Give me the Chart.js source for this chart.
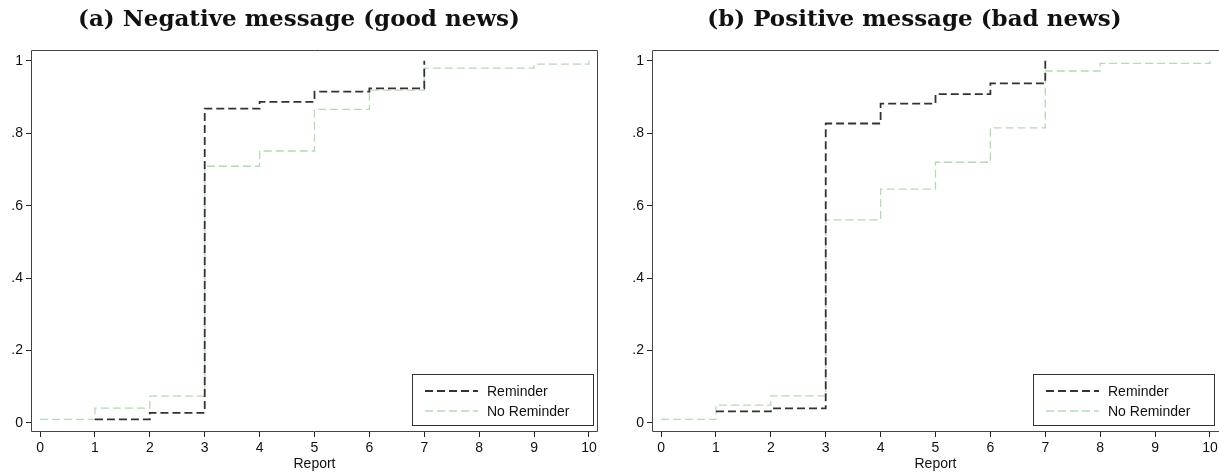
<!DOCTYPE html>
<html>
<head>
<meta charset="utf-8">
<script src="https://cdn.jsdelivr.net/npm/chart.js@4"></script>
<style>
  body { margin: 0; background: #fff; }
  canvas { position: absolute; top: 0; }
  #chartA { left: 0; }
  #chartB { left: 610px; }
</style>
</head>
<body>
<canvas id="chartA" width="610" height="473"></canvas>
<canvas id="chartB" width="609" height="473"></canvas>
<script>
// valeurs
const panelTitles = ['(a) Negative message (good news)', '(b) Positive message (bad news)'];
const seriesNames = ['Reminder', 'No Reminder'];
const reportTicks = [0, 1, 2, 3, 4, 5, 6, 7, 8, 9, 10];
const yTickVals = [0, 0.2, 0.4, 0.6, 0.8, 1];
const yTickLabels = ['0', '.2', '.4', '.6', '.8', '1'];

const reminderX = [1, 2, 3, 4, 5, 6, 7];
const noReminderX = [0, 1, 2, 3, 4, 5, 6, 7, 8, 9, 10];

const negReminder = [0.010, 0.028, 0.868, 0.887, 0.915, 0.924, 1.0];
const negNoReminder = [0.010, 0.041, 0.074, 0.709, 0.751, 0.866, 0.919, 0.980, 0.980, 0.991, 1.0];
const posReminder = [0.032, 0.040, 0.827, 0.882, 0.908, 0.938, 1.0];
const posNoReminder = [0.010, 0.049, 0.075, 0.561, 0.646, 0.720, 0.815, 0.972, 0.993, 0.993, 1.0];

const toPoints = (xs, ys) => xs.map((x, i) => ({ x: x, y: ys[i] }));

const frameBox = {
    id: 'frameBox',
    afterDraw(chart, args, opts) {
        const { ctx, chartArea: a } = chart;
        const l = Math.round(a.left) + 0.5, t = Math.round(a.top) + 0.5;
        const r = Math.round(a.right) - 0.5, b = Math.round(a.bottom) - 0.5;
        ctx.save();
        ctx.strokeStyle = '#444';
        ctx.lineWidth = 1;
        ctx.beginPath();
        if (opts.right) {
            ctx.moveTo(r, t);
            ctx.lineTo(r, b);
        } else {
            ctx.moveTo(r + 1, b);
        }
        ctx.lineTo(l, b);
        ctx.lineTo(l, t);
        ctx.lineTo(opts.right ? r : r + 1, t);
        ctx.stroke();
        ctx.restore();
    }
};

const boxLegend = {
    id: 'boxLegend',
    afterDatasetsDraw(chart) {
        const { ctx, chartArea: a } = chart;
        const w = 181, h = 51;
        const x0 = Math.round(a.right - 5 - w), y0 = Math.round(a.bottom - 7 - h);
        ctx.save();
        ctx.fillStyle = '#fff';
        ctx.fillRect(x0, y0, w, h);
        ctx.strokeStyle = '#333';
        ctx.lineWidth = 1;
        ctx.strokeRect(x0 + 0.5, y0 + 0.5, w, h);
        chart.data.datasets.forEach((ds, i) => {
            const y = y0 + 17 + i * 20;
            ctx.setLineDash(ds.borderDash);
            ctx.strokeStyle = ds.borderColor;
            ctx.lineWidth = ds.borderWidth;
            ctx.beginPath();
            ctx.moveTo(x0 + 13, y);
            ctx.lineTo(x0 + 66, y);
            ctx.stroke();
            ctx.setLineDash([]);
            ctx.fillStyle = '#111';
            ctx.font = '14px "Liberation Sans", Arial, sans-serif';
            ctx.textBaseline = 'middle';
            ctx.fillText(ds.label, x0 + 75, y + 1);
        });
        ctx.restore();
    }
};

function makePanel(canvasId, title, reminderY, noReminderY, yAxisWidth, padRight, rightEdge) {
    const ctx = document.getElementById(canvasId).getContext('2d');
    return new Chart(ctx, {
        type: 'line',
        data: {
            datasets: [{
                label: seriesNames[0],
                data: toPoints(reminderX, reminderY),
                borderColor: '#333',
                borderWidth: 1.8,
                borderDash: [8, 4],
                stepped: 'before',
                pointRadius: 0,
                fill: false
            }, {
                label: seriesNames[1],
                data: toPoints(noReminderX, noReminderY),
                borderColor: '#b4dab4',
                borderWidth: 1.3,
                borderDash: [8, 4],
                stepped: 'before',
                pointRadius: 0,
                fill: false
            }]
        },
        options: {
            responsive: false,
            animation: false,
            layout: { padding: { left: 0, right: padRight, top: 0, bottom: 0 } },
            plugins: {
                legend: { display: false },
                tooltip: { enabled: false },
                frameBox: { right: rightEdge },
                title: {
                    display: true,
                    text: title,
                    color: '#111',
                    font: { family: '"DejaVu Serif", serif', weight: 'bold', size: 23 },
                    padding: { top: 6, bottom: 16.4 }
                }
            },
            scales: {
                x: {
                    type: 'linear',
                    min: -0.165,
                    max: 10.165,
                    afterBuildTicks: (scale) => { scale.ticks = reportTicks.map(v => ({ value: v })); },
                    afterFit: (scale) => { scale.height = 41; scale.paddingLeft = 0; scale.paddingRight = 0; },
                    border: { display: false },
                    grid: { drawOnChartArea: false, drawTicks: true, tickLength: 5, color: '#222' },
                    ticks: {
                        color: '#111', padding: 3, maxRotation: 0, autoSkip: false,
                        font: { family: '"Liberation Sans", Arial, sans-serif', size: 14 }
                    },
                    title: {
                        display: true, text: 'Report', color: '#111',
                        padding: { top: 0, bottom: 0 },
                        font: { family: '"Liberation Sans", Arial, sans-serif', size: 14 }
                    }
                },
                y: {
                    min: -0.025,
                    max: 1.03,
                    afterBuildTicks: (scale) => { scale.ticks = yTickVals.map(v => ({ value: v })); },
                    afterFit: (scale) => { scale.width = yAxisWidth; scale.paddingTop = 0; scale.paddingBottom = 0; },
                    border: { display: false },
                    grid: { drawOnChartArea: false, drawTicks: true, tickLength: 5, color: '#222' },
                    ticks: {
                        color: '#111', padding: 3, autoSkip: false,
                        font: { family: '"Liberation Sans", Arial, sans-serif', size: 14 },
                        callback: (value) => {
                            const i = yTickVals.findIndex(v => Math.abs(v - value) < 1e-9);
                            return i >= 0 ? yTickLabels[i] : '';
                        }
                    }
                }
            }
        },
        plugins: [frameBox, boxLegend]
    });
}

makePanel('chartA', panelTitles[0], negReminder, negNoReminder, 31, 12, true);
makePanel('chartB', panelTitles[1], posReminder, posNoReminder, 42, 0, false);
</script>
</body>
</html>
